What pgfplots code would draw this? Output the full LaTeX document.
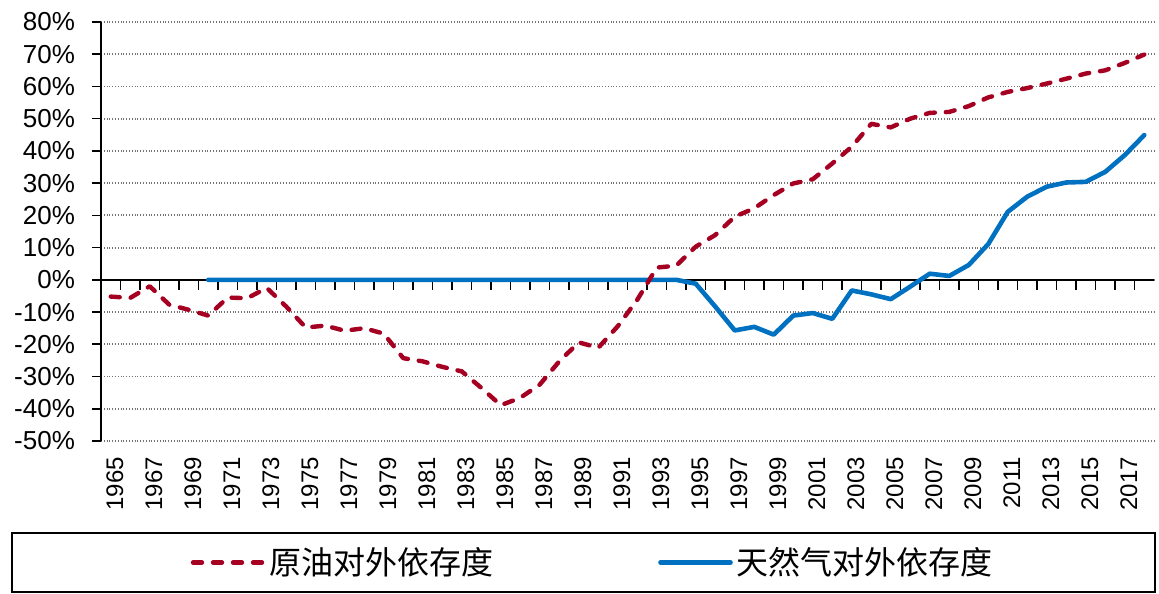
\documentclass[border=0pt]{standalone}
\usepackage{pgfplots}
\pgfplotsset{compat=1.18}
\usepackage{fontspec}
\setmainfont{Liberation Sans}
\newfontfamily\cjk{Noto Sans CJK SC}
\definecolor{oilred}{HTML}{A50021}
\definecolor{gasblue}{HTML}{0070C0}

\pgfplotstableread{
year value
1965 -5.2
1966 -5.6
1967 -2.0
1968 -7.7
1969 -9.3
1970 -11.1
1971 -5.5
1972 -5.7
1973 -2.5
1974 -8.3
1975 -14.8
1976 -14.2
1977 -15.8
1978 -15.0
1979 -16.7
1980 -24.3
1981 -25.3
1982 -27.0
1983 -28.4
1984 -33.5
1985 -38.9
1986 -36.6
1987 -32.5
1988 -25.3
1989 -19.4
1990 -21.1
1991 -14.4
1992 -6.2
1993 3.8
1994 4.4
1995 10.3
1996 13.9
1997 19.6
1998 22.2
1999 26.3
2000 29.9
2001 31.2
2002 36.1
2003 41.3
2004 48.4
2005 47.3
2006 50.0
2007 51.8
2008 52.1
2009 53.9
2010 56.6
2011 58.3
2012 59.5
2013 60.9
2014 62.4
2015 64.0
2016 65.0
2017 67.3
2018 69.9
}\oiltable

\pgfplotstableread{
year value
1970 0
1971 0
1972 0
1973 0
1974 0
1975 0
1976 0
1977 0
1978 0
1979 0
1980 0
1981 0
1982 0
1983 0
1984 0
1985 0
1986 0
1987 0
1988 0
1989 0
1990 0
1991 0
1992 0
1993 0
1994 0
1995 -1.2
1996 -8.3
1997 -15.7
1998 -14.6
1999 -17.0
2000 -11.1
2001 -10.3
2002 -12.1
2003 -3.3
2004 -4.5
2005 -6.0
2006 -2.1
2007 1.9
2008 1.2
2009 4.6
2010 11.1
2011 21.1
2012 25.8
2013 28.9
2014 30.2
2015 30.4
2016 33.5
2017 38.7
2018 44.9
}\gastable

\begin{document}
\begin{tikzpicture}
\begin{axis}[
  scale only axis,
  width=526.5pt, height=209.5pt,
  xmin=1964.5, xmax=2018.5, ymin=-50, ymax=80,
  axis x line=bottom, axis y line=left,
  x axis line style={draw=none,-},
  y axis line style={-,black,line width=0.8pt},
  /pgf/number format/.cd, 1000 sep={}, assume math mode=true, /pgfplots/.cd,
  xtick={1965,1967,...,2017},
  xtick style={draw=none},
  xticklabel style={rotate=90, anchor=east, yshift=-2pt, font=\fontsize{12}{14}\selectfont},
  ytick={-50,-40,...,80},
  yticklabels={-50\%,-40\%,-30\%,-20\%,-10\%,0\%,10\%,20\%,30\%,40\%,50\%,60\%,70\%,80\%},
  yticklabel style={xshift=-5pt, font=\fontsize{13}{15}\selectfont},
  ytick style={black,line width=0.8pt},
  tick align=outside, major tick length=4.5pt,
  ymajorgrids,
  grid style={densely dotted, black!55, line width=0.9pt},
  legend style={draw=none, fill=none, at={(axis description cs:0.468,-0.29)}, anchor=center,
    font=\cjk\fontsize{16}{18}\selectfont,
    /tikz/every even column/.append style={column sep=80.5pt}},
  legend columns=2,
  legend cell align=left,
  reverse legend,
  legend image code/.code={\draw[#1] (0pt,0pt) -- (35pt,0pt);},
]
\addplot[black, line width=0.8pt, forget plot] coordinates {(1964.5,0) (2018.5,0)};
\addplot[ycomb, black, line width=0.8pt, forget plot, mark=none] coordinates {
(1965.5,-3.3)(1966.5,-3.3)(1967.5,-3.3)(1968.5,-3.3)(1969.5,-3.3)(1970.5,-3.3)
(1971.5,-3.3)(1972.5,-3.3)(1973.5,-3.3)(1974.5,-3.3)(1975.5,-3.3)(1976.5,-3.3)
(1977.5,-3.3)(1978.5,-3.3)(1979.5,-3.3)(1980.5,-3.3)(1981.5,-3.3)(1982.5,-3.3)
(1983.5,-3.3)(1984.5,-3.3)(1985.5,-3.3)(1986.5,-3.3)(1987.5,-3.3)(1988.5,-3.3)
(1989.5,-3.3)(1990.5,-3.3)(1991.5,-3.3)(1992.5,-3.3)(1993.5,-3.3)(1994.5,-3.3)
(1995.5,-3.3)(1996.5,-3.3)(1997.5,-3.3)(1998.5,-3.3)(1999.5,-3.3)(2000.5,-3.3)
(2001.5,-3.3)(2002.5,-3.3)(2003.5,-3.3)(2004.5,-3.3)(2005.5,-3.3)(2006.5,-3.3)
(2007.5,-3.3)(2008.5,-3.3)(2009.5,-3.3)(2010.5,-3.3)(2011.5,-3.3)(2012.5,-3.3)
(2013.5,-3.3)(2014.5,-3.3)(2015.5,-3.3)(2016.5,-3.3)(2017.5,-3.3)};
\addplot[gasblue, line width=2.3pt, line join=round, line cap=round] table[x=year,y=value] {\gastable};
\addlegendentry{天然气对外依存度}
\addplot[oilred, line width=2.2pt, line cap=round, line join=round, dash pattern=on 4.5pt off 5.5pt] table[x=year,y=value] {\oiltable};
\addlegendentry{原油对外依存度}
\end{axis}
\draw[black, line width=0.7pt] ([shift={(-44.5pt,-46pt)}]current axis.south west) rectangle ([shift={(527pt,-75.5pt)}]current axis.south west);
\pgfresetboundingbox
\path ([shift={(-50.5pt,-76.5pt)}]current axis.south west) rectangle ([shift={(2.5pt,11pt)}]current axis.north east);
\end{tikzpicture}
\end{document}
